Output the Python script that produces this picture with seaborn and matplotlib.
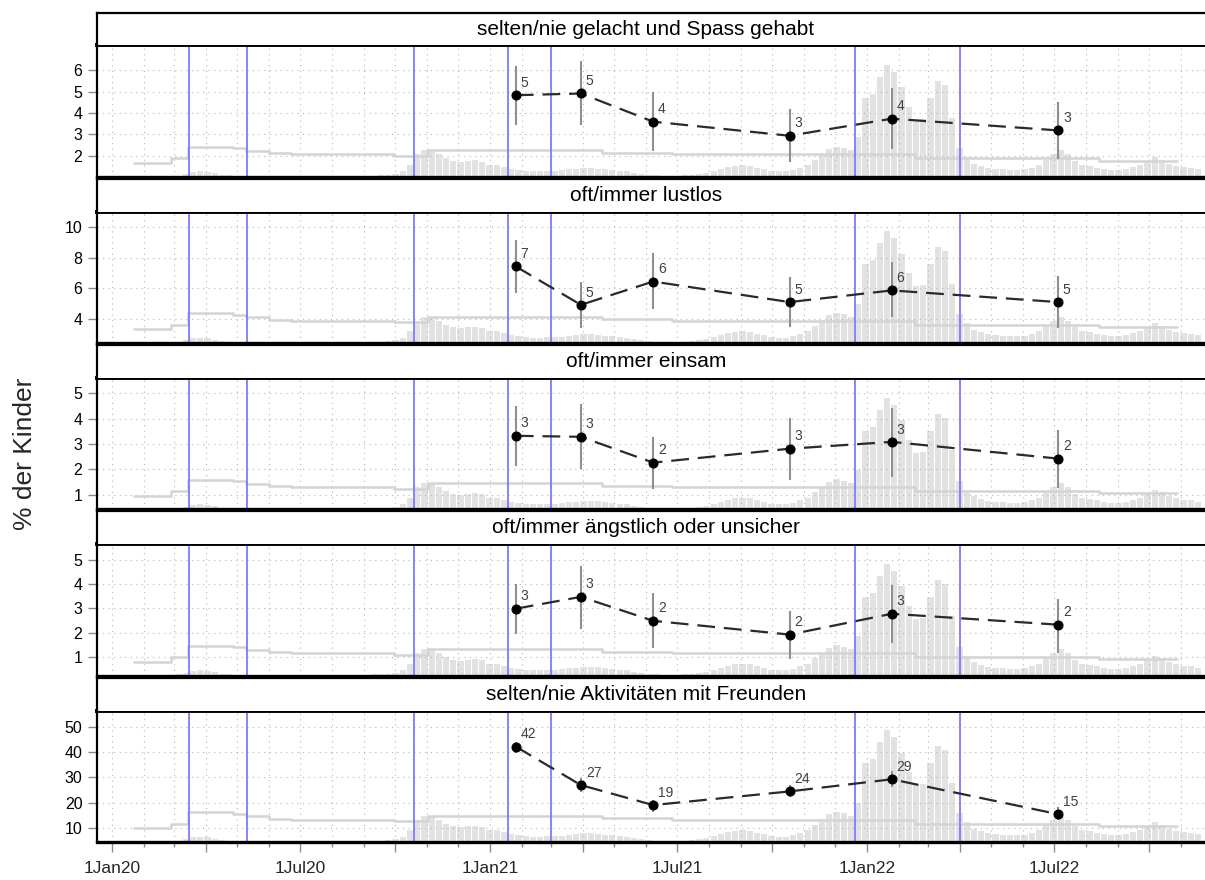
import numpy as np
import pandas as pd
import matplotlib
matplotlib.use("Agg")
import matplotlib.pyplot as plt
import matplotlib.dates as mdates
from matplotlib.ticker import FuncFormatter
import seaborn as sns

sns.set_theme(style="white")
plt.rcParams['font.family'] = ['Liberation Sans', 'DejaVu Sans']

# ---------------- data ----------------
panel_titles = [
    "selten/nie gelacht und Spass gehabt",
    "oft/immer lustlos",
    "oft/immer einsam",
    "oft/immer ängstlich oder unsicher",
    "selten/nie Aktivitäten mit Freunden",
]
survey_dates = ["2021-01-26", "2021-03-30", "2021-06-08", "2021-10-18", "2022-01-25", "2022-07-05"]

est_p1 = [4.84, 4.92, 3.60, 2.94, 3.74, 3.19]
lo_p1 = [3.45, 3.42, 2.22, 1.71, 2.33, 1.83]
hi_p1 = [6.23, 6.42, 5.00, 4.18, 5.18, 4.52]

est_p2 = [7.43, 4.93, 6.45, 5.11, 5.87, 5.11]
lo_p2 = [5.70, 3.45, 4.65, 3.48, 4.13, 3.41]
hi_p2 = [9.13, 6.45, 8.30, 6.74, 7.69, 6.82]

est_p3 = [3.32, 3.28, 2.26, 2.81, 3.08, 2.42]
lo_p3 = [2.14, 2.02, 1.20, 1.59, 1.70, 1.24]
hi_p3 = [4.50, 4.58, 3.28, 4.03, 4.42, 3.56]

est_p4 = [2.99, 3.48, 2.49, 1.92, 2.78, 2.33]
lo_p4 = [1.96, 2.16, 1.38, 0.93, 1.59, 1.14]
hi_p4 = [4.01, 4.75, 3.64, 2.90, 3.97, 3.40]

est_p5 = [42.1, 26.9, 19.0, 24.4, 29.2, 15.4]
lo_p5 = [39.5, 24.3, 16.3, 22.1, 26.0, 13.3]
hi_p5 = [44.1, 29.6, 21.2, 27.0, 32.6, 18.1]

y_limits = [(1.02, 7.17), (2.45, 11.0), (0.41, 5.59), (0.23, 5.65), (4.45, 56.3)]
y_ticks = [[2, 3, 4, 5, 6], [4, 6, 8, 10], [1, 2, 3, 4, 5], [1, 2, 3, 4, 5], [10, 20, 30, 40, 50]]

# vertical reference lines (measures)
event_dates = ["2020-03-16", "2020-05-11", "2020-10-19", "2021-01-18", "2021-03-01", "2021-12-20", "2022-04-01"]

# background: weekly case curve, as fraction of panel height (weeks start Monday 2020-01-06)
bg_rel = [
    0, 0, 0, 0,                                  # Jan 2020
    0, 0, 0, 0.003,                              # Feb
    0.008, 0.02, 0.035, 0.04, 0.035,             # Mar
    0.025, 0.015, 0.01, 0.006,                   # Apr
    0.004, 0.003, 0.003, 0.003,                  # May
    0.003, 0.003, 0.003, 0.003, 0.003,           # Jun
    0.005, 0.005, 0.005, 0.005,                  # Jul
    0.006, 0.006, 0.006, 0.006, 0.006,           # Aug
    0.008, 0.01, 0.012, 0.02,                    # Sep
    0.04, 0.09, 0.17, 0.2,                       # Oct
    0.2, 0.17, 0.14, 0.12, 0.11,                 # Nov
    0.12, 0.125, 0.115, 0.09,                    # Dec
    0.09, 0.075, 0.06, 0.05,                     # Jan 2021
    0.045, 0.04, 0.04, 0.042,                    # Feb
    0.045, 0.048, 0.055, 0.06, 0.065,            # Mar
    0.066, 0.062, 0.055, 0.05,                   # Apr
    0.045, 0.04, 0.03, 0.02, 0.015,              # May
    0.01, 0.006, 0.005, 0.006,                   # Jun
    0.01, 0.015, 0.022, 0.03,                    # Jul
    0.045, 0.06, 0.075, 0.085, 0.09,             # Aug
    0.085, 0.07, 0.06, 0.045,                    # Sep
    0.04, 0.04, 0.05, 0.07,                      # Oct
    0.09, 0.13, 0.175, 0.21, 0.23,               # Nov
    0.22, 0.2, 0.3, 0.6,                         # Dec
    0.63, 0.76, 0.85, 0.8, 0.68,                 # Jan 2022
    0.53, 0.43, 0.44, 0.6,                       # Feb
    0.73, 0.7, 0.45, 0.22,                       # Mar
    0.15, 0.1, 0.08, 0.065,                      # Apr
    0.06, 0.055, 0.05, 0.05, 0.055,              # May
    0.07, 0.09, 0.13, 0.17,                      # Jun
    0.2, 0.17, 0.12, 0.09,                       # Jul
    0.08, 0.07, 0.06, 0.05, 0.05,                # Aug
    0.06, 0.075, 0.09, 0.12,                     # Sep
    0.15, 0.13, 0.1, 0.085, 0.075,               # Oct
    0.07, 0.06,                                  # Nov
]
bg_start = "2020-01-06"

# background: step line (fraction of panel height)
step_dates = ["2020-01-22", "2020-02-27", "2020-03-15", "2020-04-27", "2020-05-10", "2020-06-01",
              "2020-06-22", "2020-09-30", "2020-11-02", "2021-04-19", "2021-06-26", "2022-02-16",
              "2022-08-14", "2022-10-28"]
step_rel = [0.106, 0.14, 0.226, 0.216, 0.198, 0.177, 0.170, 0.160, 0.201, 0.182, 0.170, 0.140, 0.122]

# ---------------- figure ----------------
W, H = 1205, 880
fig = plt.figure(figsize=(W / 100, H / 100), dpi=100)

left_px, right_px = 97, 1205
panel_tops = [45.5, 211.7, 378.3, 544.3, 710.7]
panel_h = 131.2
strip_h = 33.0

xlim = (mdates.date2num(pd.Timestamp("2019-12-17 12:00")), mdates.date2num(pd.Timestamp("2022-11-24 06:00")))
sd = mdates.date2num(pd.to_datetime(survey_dates))
ev = mdates.date2num(pd.to_datetime(event_dates))
bg_x = mdates.date2num(pd.date_range(bg_start, periods=len(bg_rel), freq="7D"))
st_x = mdates.date2num(pd.to_datetime(step_dates))

ests = [est_p1, est_p2, est_p3, est_p4, est_p5]
los = [lo_p1, lo_p2, lo_p3, lo_p4, lo_p5]
his = [hi_p1, hi_p2, hi_p3, hi_p4, hi_p5]

grid_kw = dict(color="#b5b5b5", linestyle=(0, (1, 4)), linewidth=0.8)

for i in range(5):
    top = panel_tops[i]
    ax = fig.add_axes([left_px / W, 1 - (top + panel_h) / H, (right_px - left_px) / W, panel_h / H])
    sax = fig.add_axes([left_px / W, 1 - top / H, (right_px - left_px) / W, strip_h / H])

    ymin, ymax = y_limits[i]
    span = ymax - ymin

    # background bars
    ax.bar(bg_x + 3.5, np.array(bg_rel) * span, bottom=ymin, width=6.0,
           color="#e2e2e2", edgecolor="none", zorder=0.8)
    # background step line
    sy = ymin + np.array(step_rel + [step_rel[-1]]) * span
    ax.step(st_x, sy, where="post", color="#d4d4d4", lw=1.8, zorder=1.2)

    # grid
    for yt in y_ticks[i]:
        ax.axhline(yt, zorder=1.0, **grid_kw)
    for m in pd.date_range("2020-01-01", "2022-11-01", freq="MS"):
        ax.axvline(mdates.date2num(m), zorder=1.0, **grid_kw)

    # measure lines
    for e in ev:
        ax.axvline(e, color="#7b7bff", lw=1.3, zorder=1.5)

    # error bars
    ax.vlines(sd, los[i], his[i], color="#8f8f8f", lw=1.5, zorder=2)

    df = pd.DataFrame({"date": sd, "est": ests[i]})
    sns.lineplot(data=df, x="date", y="est", ax=ax, color="#2a2a2a", lw=1.6,
                 linestyle=(0, (8.0, 4.0)), marker="o", markersize=6.5,
                 markeredgecolor="black", markerfacecolor="black", zorder=3,
                 estimator=None, sort=False)

    for x, v in zip(sd, ests[i]):
        ax.annotate(f"{int(round(v))}", (x, v), xytext=(3.5, 6), textcoords="offset points",
                    ha="left", va="baseline", fontsize=10, color="#404040", zorder=4)

    ax.set_xlim(*xlim)
    ax.set_ylim(ymin, ymax)
    ax.set_yticks(y_ticks[i])
    ax.set_yticklabels([str(t) for t in y_ticks[i]], fontsize=11.5, color="black")
    ax.set_xlabel("")
    ax.set_ylabel("")
    ax.tick_params(axis="y", length=6.5, width=1, color="#8a8a8a", pad=4, left=True)

    ax.spines["right"].set_visible(False)
    ax.spines["top"].set_linewidth(2.8)
    ax.spines["bottom"].set_linewidth(2.4)
    ax.spines["left"].set_linewidth(1.6)
    for s in ["top", "bottom", "left"]:
        ax.spines[s].set_color("black")

    if i == 4:
        ax.xaxis.set_major_locator(mdates.MonthLocator(bymonth=[1, 4, 7, 10]))
        ax.xaxis.set_minor_locator(mdates.MonthLocator())
        ax.xaxis.set_major_formatter(FuncFormatter(
            lambda x, p: (mdates.num2date(x).strftime("1%b%y") if mdates.num2date(x).month in (1, 7) else "")))
        ax.tick_params(axis="x", which="major", length=7, width=1, color="#8a8a8a",
                       labelsize=12.5, pad=7, bottom=True)
        ax.tick_params(axis="x", which="minor", length=3.5, width=1, color="#8a8a8a", bottom=True)
    else:
        ax.set_xticks([])

    # strip
    sax.set_xticks([])
    sax.set_yticks([])
    sax.set_facecolor("white")
    sax.spines["right"].set_visible(False)
    sax.spines["bottom"].set_visible(False)
    sax.spines["top"].set_linewidth(1.6)
    sax.spines["left"].set_linewidth(1.6)
    for s in ["top", "left"]:
        sax.spines[s].set_color("black")
    sax.text(0.4955, 0.5, panel_titles[i], ha="center", va="center", fontsize=15, color="black",
             transform=sax.transAxes)

fig.text(25 / W, 1 - 454 / H, "% der Kinder", rotation=90, ha="center", va="center", fontsize=19)

fig.savefig("out.png", dpi=100)
